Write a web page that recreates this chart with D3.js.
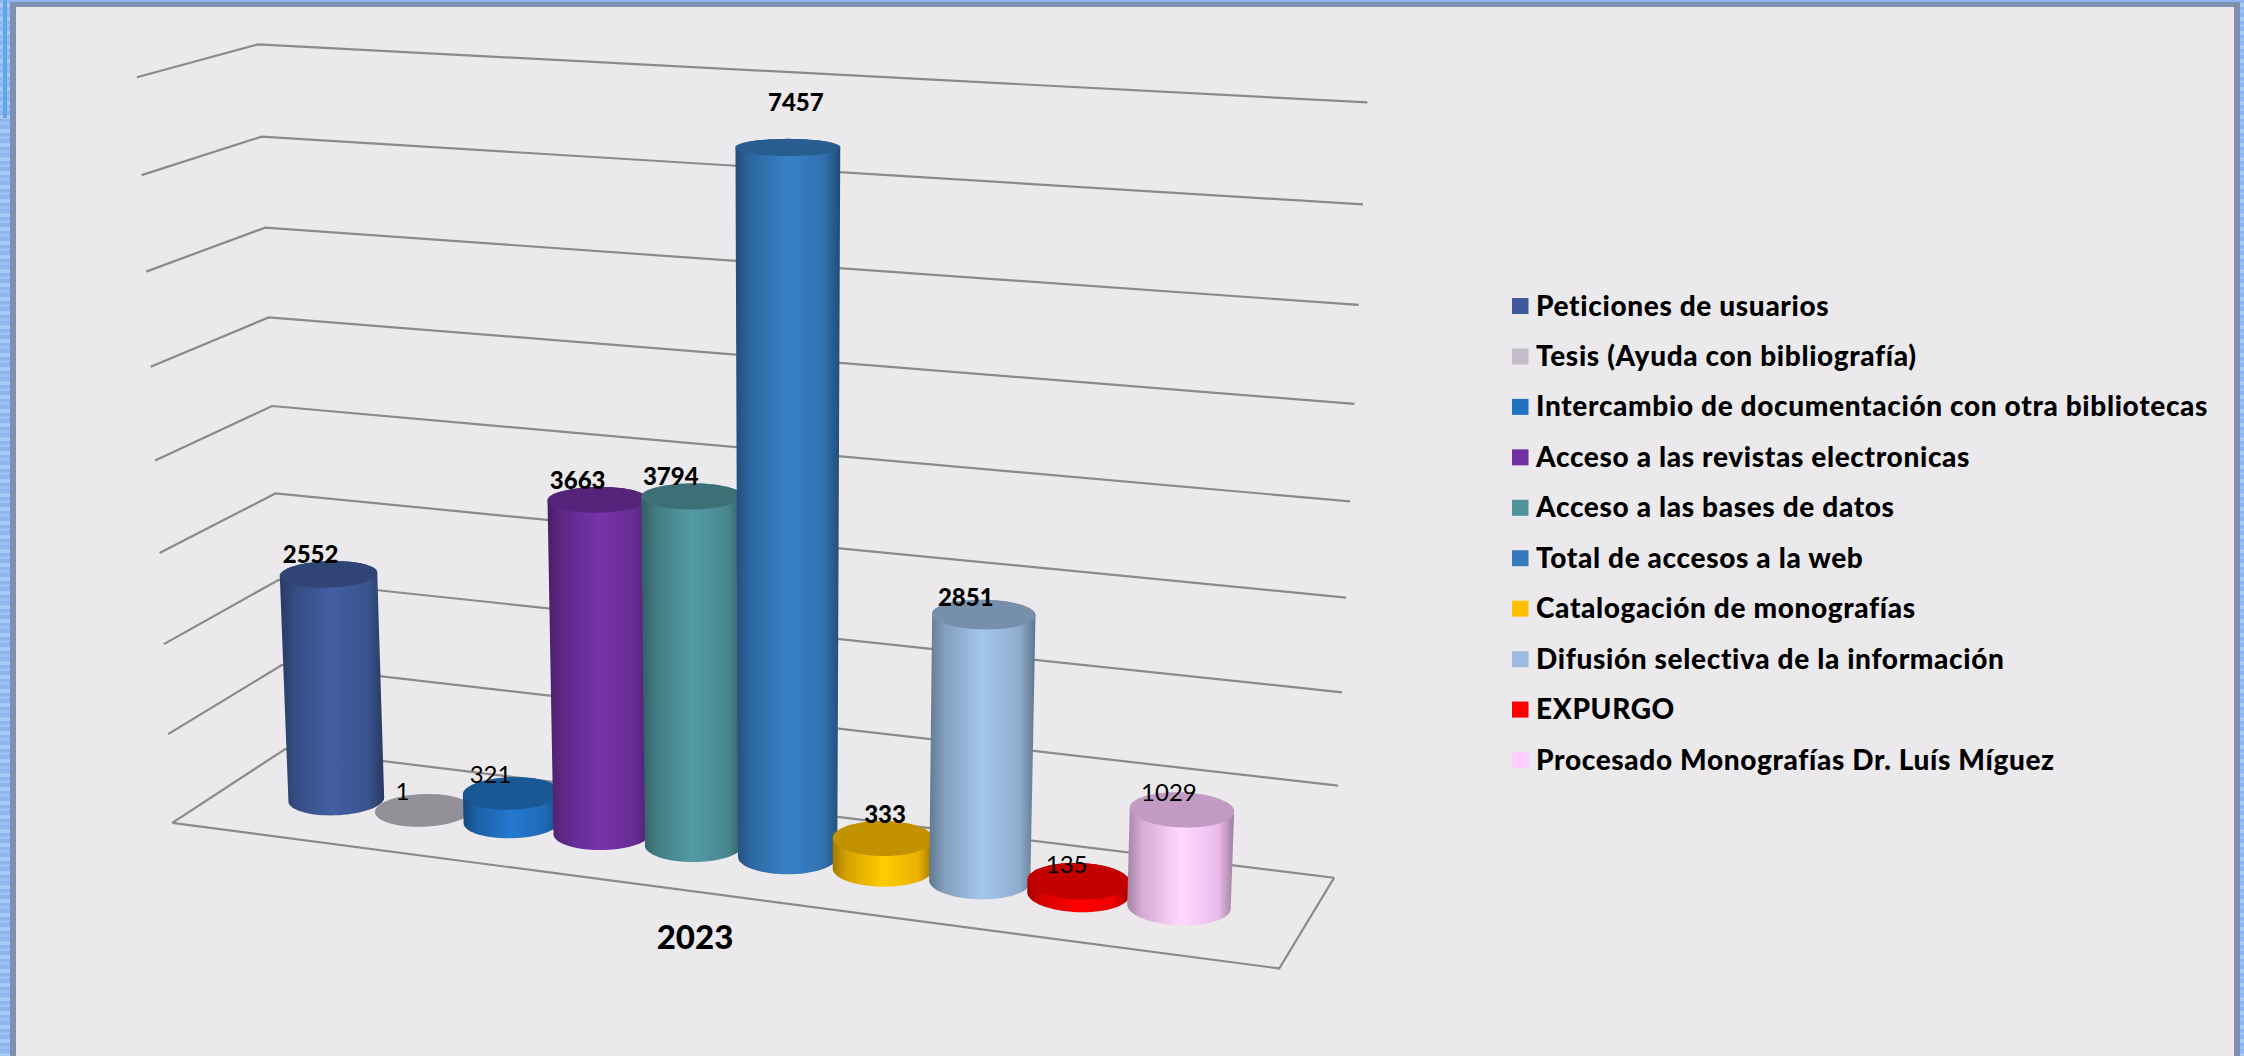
<!DOCTYPE html>
<html><head><meta charset="utf-8">
<script src="https://cdn.jsdelivr.net/npm/d3@7"></script>
<style>html,body{margin:0;padding:0;background:#8fb8ef}svg{display:block}text{font-family:Lato,sans-serif;fill:#000}</style>
</head><body><svg id="c" width="2244" height="1056"></svg>
<script>
const categories=["Peticiones de usuarios","Tesis (Ayuda con bibliografía)","Intercambio de documentación con otra bibliotecas","Acceso a las revistas electronicas","Acceso a las bases de datos","Total de accesos a la web","Catalogación de monografías","Difusión selectiva de la información","EXPURGO","Procesado Monografías Dr. Luís Míguez"];
const values=[2552,1,321,3663,3794,7457,333,2851,135,1029];
const colors=["#3f5a9a","#c2bdc8","#2272c4","#7030a0","#4f929b","#357abd","#ffc000","#9bbce0","#ff0000","#ffccff"];
const boldLabels=[true,false,false,true,true,true,true,true,false,false];
const labelDx=[-18,-21,-21,-20,-21,8,2,-18,-12,-13];
const labelDy=[2,6,6,2,2,-28,2,6,10,9];
const xLabel="2023";
const maxValue=8000;

const svg=d3.select("#c");
const defs=svg.append("defs");
const pat=defs.append("pattern").attr("id","bg").attr("width",14).attr("height",14).attr("patternUnits","userSpaceOnUse");
pat.append("rect").attr("width",14).attr("height",14).attr("fill","#8db6f0");
pat.append("rect").attr("y",3).attr("width",14).attr("height",4).attr("fill","#a8c8f5");
pat.append("rect").attr("y",10).attr("width",14).attr("height",3).attr("fill","#9cc0f3");
svg.append("rect").attr("width",2244).attr("height",1056).attr("fill","url(#bg)");
svg.append("rect").attr("x",3).attr("y",0).attr("width",4).attr("height",118).attr("fill","#63a5e6");
svg.append("rect").attr("x",10).attr("y",2).attr("width",2230).attr("height",1060).attr("fill","#7f91b0");
svg.append("rect").attr("x",16).attr("y",7).attr("width",2218).attr("height",1060).attr("fill","#ebe9ec");

// camera calibration: chart box corners (u, v, w) -> pixel
const calib=[[0,0,0,172,822],[1,0,0,1280,968],[1,0,1,1334,878],[0,0,1,286,750],
 [0,1,0,137.7,78],[0,1,1,258,44],[1,1,1,1368,102],
 [0,.5,0,154,461],[0,.5,1,272,405],[1,.5,1,1349,502]];
function solve(A,b){const n=b.length,M=A.map((r,i)=>[...r,b[i]]);
 for(let i=0;i<n;i++){let p=i;for(let k=i+1;k<n;k++)if(Math.abs(M[k][i])>Math.abs(M[p][i]))p=k;
  [M[i],M[p]]=[M[p],M[i]];
  for(let k=0;k<n;k++)if(k!==i){const f=M[k][i]/M[i][i];for(let j=i;j<=n;j++)M[k][j]-=f*M[i][j];}}
 return M.map((r,i)=>r[n]/r[i]);}
const rows=[],rhs=[];
calib.forEach(([u,v,w,px,py])=>{const x=px/1000,y=py/1000;
 rows.push([u,v,w,1,0,0,0,0,-x*u,-x*v,-x*w]);rhs.push(x);
 rows.push([0,0,0,0,u,v,w,1,-y*u,-y*v,-y*w]);rhs.push(y);});
const ATA=d3.range(11).map(i=>d3.range(11).map(j=>d3.sum(rows,r=>r[i]*r[j])));
const ATb=d3.range(11).map(i=>d3.sum(rows,(r,k)=>r[i]*rhs[k]));
const m=solve(ATA,ATb);
function project(u,v,w){const d=m[8]*u+m[9]*v+m[10]*w+1;
 return [1000*(m[0]*u+m[1]*v+m[2]*w+m[3])/d,1000*(m[4]*u+m[5]*v+m[6]*w+m[7])/d];}

const yScale=d3.scaleLinear().domain([0,maxValue]).range([0,1]);
const xScale=d3.scaleBand().domain(categories).range([0.0655,0.935]);
const midW=0.49, radiusU=xScale.bandwidth()*0.495, radiusW=0.2;
const line=d3.line();

const grid=svg.append("g").attr("fill","none").attr("stroke","#8a8a8a").attr("stroke-width",2.2);
yScale.ticks(8).forEach(t=>{const v=yScale(t);
 grid.append("path").attr("d",line([project(0,v,0),project(0,v,1),project(1,v,1)]));});
grid.append("path").attr("d",line([project(0,0,0),project(1,0,0),project(1,0,1)]));

const circle=(u,v)=>d3.range(0,72).map(i=>{const a=i/72*2*Math.PI;
 return project(u+radiusU*Math.cos(a),v,midW+radiusW*Math.sin(a));});
const shade=(c,k)=>{const q=d3.rgb(c);return d3.rgb(q.r*k,q.g*k,q.b*k).formatHex();};

categories.forEach((cat,i)=>{
 const u=xScale(cat)+xScale.bandwidth()/2, v=yScale(values[i]);
 const base=circle(u,0), top=circle(u,v);
 const hull=d3.polygonHull(base.concat(top));
 const x0=d3.min(hull,p=>p[0]),x1=d3.max(hull,p=>p[0]);
 const gid="g"+i;
 const g=defs.append("linearGradient").attr("id",gid).attr("gradientUnits","userSpaceOnUse")
  .attr("x1",x0).attr("x2",x1).attr("y1",0).attr("y2",0);
 [[0,.64],[.14,.84],[.5,1.06],[.85,.92],[1,.62]].forEach(([o,k])=>g.append("stop").attr("offset",o).attr("stop-color",shade(colors[i],k)));
 svg.append("path").attr("d",line(hull)+"Z").attr("fill",`url(#${gid})`);
 svg.append("path").attr("d",line(top)+"Z").attr("fill",shade(colors[i],.76));
});
categories.forEach((cat,i)=>{
 const u=xScale(cat)+xScale.bandwidth()/2, v=yScale(values[i]);
 const top=circle(u,v), c=project(u,v,midW), ty=d3.min(top,p=>p[1]);
 svg.append("text").attr("x",c[0]+labelDx[i]).attr("y",ty+labelDy[i]).attr("text-anchor","middle")
  .attr("font-size",24).attr("font-weight",boldLabels[i]?900:400).text(values[i]);
});
svg.append("text").attr("x",695).attr("y",949).attr("text-anchor","middle").attr("font-size",33).attr("font-weight",900).text(xLabel);

const legendY=d3.scalePoint().domain(categories).range([306,760]);
const lg=svg.append("g");
categories.forEach((cat,i)=>{const y=legendY(cat);
 lg.append("rect").attr("x",1512).attr("y",y-8).attr("width",16.5).attr("height",16).attr("fill",colors[i]);
 lg.append("text").attr("x",1536).attr("y",y+9.5).attr("font-size",28).attr("font-weight",900).attr("letter-spacing",0.65).text(cat);
});
</script></body></html>
